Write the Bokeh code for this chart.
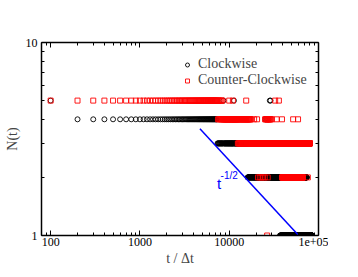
import numpy as np
from bokeh.plotting import figure
from bokeh.models import Range1d, LogAxis, FixedTicker, Legend, LegendItem, Label
from bokeh.embed import file_html
from bokeh.resources import INLINE

# Step-function runs: (t_start, t_end, step, N); later runs override earlier ones
cw_t0 = [100, 200, 7400, 16100, 37100, 37200, 40100, 67000, 8600, 11300, 24000, 25500, 26500, 27500, 28500, 29000]
cw_t1 = [100, 7300, 16000, 37000, 40000, 40000, 85000, 74000, 8600, 11300, 24000, 25500, 26500, 27500, 28500, 29000]
cw_dt = [100, 100, 100, 100, 200, 200, 100, 200, 100, 100, 100, 100, 100, 100, 100, 100]
cw_n = [5, 4, 3, 2, 1, 2, 1, 2, 5, 5, 3, 4, 4, 4, 5, 5]

ccw_t0 = [100, 7400, 7500, 8600, 12500, 12600, 17500, 19000, 20500, 21000, 25200, 30000, 34000, 39000,
          52000, 59000, 39100, 76000, 26600, 10000, 11000, 15500, 32700, 36000]
ccw_t1 = [7300, 8500, 8500, 12400, 80000, 17200, 17500, 19000, 20500, 27000, 29200, 30000, 34000, 39000,
          52000, 59000, 67000, 76000, 26600, 10000, 11000, 15500, 32700, 36000]
ccw_dt = [100, 200, 200, 100, 100, 200, 100, 100, 100, 1000, 400, 100, 100, 100,
          100, 100, 200, 100, 100, 100, 100, 100, 100, 100]
ccw_n = [5, 5, 4, 4, 3, 4, 4, 4, 4, 2, 4, 4, 4, 4,
         4, 4, 2, 2, 1, 5, 5, 5, 5, 5]

# reference power law t^(-1/2), endpoints
line_t = [4700, 60000]
line_n = [3.57, 1.0]

x_major = [100, 1000, 10000, 100000]
x_labels = ["100", "1000", "10000", "1e+05"]
y_major = [1, 10]
y_labels = ["1", "10"]


def expand(t0, t1, dt, n):
    d = {}
    for a, b, s, v in zip(t0, t1, dt, n):
        for t in range(a, b + 1, s):
            d[t] = v
    ts = sorted(d)
    return ts, [d[t] for t in ts]


cw_t, cw_N = expand(cw_t0, cw_t1, cw_dt, cw_n)
ccw_t, ccw_N = expand(ccw_t0, ccw_t1, ccw_dt, ccw_n)

FONT = "Liberation Serif"

p = figure(frame_width=277, frame_height=193, x_axis_type="log", y_axis_type="log",
           x_range=Range1d(79, 100000), y_range=Range1d(1, 10),
           output_backend="svg", toolbar_location=None,
           min_border_left=41, min_border_right=10, min_border_top=42, min_border_bottom=34)
p.grid.visible = False
p.outline_line_color = None
p.background_fill_color = "white"

x_minor = [m * 10 ** e for e in range(1, 5) for m in range(2, 10)]
y_minor = [m for m in range(2, 10)]

p.add_layout(LogAxis(), "above")
p.add_layout(LogAxis(), "right")

for ax in p.xaxis:
    ax.ticker = FixedTicker(ticks=x_major, minor_ticks=x_minor)
for ax in p.yaxis:
    ax.ticker = FixedTicker(ticks=y_major, minor_ticks=y_minor)

for ax in p.axis:
    ax.axis_line_width = 1.5
    ax.axis_line_color = "black"
    ax.major_tick_in = 5
    ax.major_tick_out = 0
    ax.minor_tick_in = 3
    ax.minor_tick_out = 0
    ax.major_tick_line_color = "black"
    ax.minor_tick_line_color = "black"
    ax.major_label_text_font = FONT
    ax.major_label_text_font_size = "12px"
    ax.major_label_text_color = "black"
    ax.axis_label_text_font = FONT
    ax.axis_label_text_font_style = "normal"
    ax.axis_label_text_font_size = "14px"

p.above[0].major_label_text_alpha = 0
p.right[0].major_label_text_alpha = 0
p.above[0].major_label_standoff = 0
p.right[0].major_label_standoff = 0

p.below[0].major_label_overrides = dict(zip(x_major, x_labels))
p.left[0].major_label_overrides = dict(zip(y_major, y_labels))
p.below[0].major_label_standoff = 2
p.left[0].major_label_standoff = 4
p.below[0].axis_label = "t / Δt"
p.left[0].axis_label = "N(t)"
p.below[0].axis_label_standoff = 2
p.left[0].axis_label_standoff = 3

r_cw = p.scatter(cw_t, cw_N, marker="circle", size=5, fill_color=None, line_color="black", line_width=0.9)
r_ccw = p.scatter(ccw_t, ccw_N, marker="square", size=5, fill_color=None, line_color="red", line_width=0.9)
p.line(line_t, line_n, line_color="blue", line_width=1.5)

p.add_layout(Label(x=7300, y=1.68, text="t", text_font="Liberation Sans", text_font_size="15px", text_color="blue"))
p.add_layout(Label(x=8000, y=1.92, text="-1/2", text_font="Liberation Sans", text_font_size="10px", text_color="blue"))

legend = Legend(items=[LegendItem(label="Clockwise", renderers=[r_cw]),
                       LegendItem(label="Counter-Clockwise", renderers=[r_ccw])],
                location=(141, 147), orientation="vertical")
legend.background_fill_alpha = 0
legend.border_line_color = None
legend.padding = 0
legend.margin = 0
legend.spacing = 0
legend.glyph_width = 10
legend.glyph_height = 13
legend.label_height = 13
legend.label_standoff = 6
legend.label_text_font = FONT
legend.label_text_font_size = "14px"
legend.label_text_line_height = 1.0
p.add_layout(legend, "center")

open("out.html", "w").write(file_html(p, INLINE))
